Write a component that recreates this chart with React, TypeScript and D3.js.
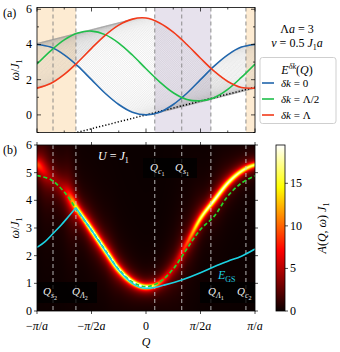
import React, { useMemo } from 'react';
import * as d3 from 'd3';

const PI = Math.PI;
const LAMBDA = 3;
const V = 0.5;

// Q grid (units of pi/a), shared by all sampled curves
const qGridPi = [-1, -0.875, -0.75, -0.625, -0.5, -0.375, -0.25, -0.125, 0, 0.125, 0.25, 0.375, 0.5, 0.625, 0.75, 0.875, 1];

// panel (a): E^{dk}(Q)
const blueE = [4.0, 3.85, 3.41, 2.77, 2.0, 1.23, 0.59, 0.15, 0.0, 0.15, 0.59, 1.23, 2.0, 2.77, 3.41, 3.85, 4.0];
const greenE = [2.89, 3.64, 4.26, 4.65, 4.76, 4.56, 4.08, 3.4, 2.62, 1.88, 1.26, 0.88, 0.8, 0.98, 1.45, 2.13, 2.89];
const redE = [1.52, 1.78, 2.3, 3.0, 3.78, 4.52, 5.1, 5.44, 5.5, 5.22, 4.7, 4.0, 3.22, 2.48, 1.9, 1.56, 1.52];
const grayDeltaK = d3.range(0, 61).map(i => (i * LAMBDA) / 60);

// special momenta
const qLines = [-2.68, -2.02, 0.253, 1.03, 1.87, 2.88];
const orangeRanges = [[-PI, -2.02], [2.88, PI]];
const purpleRanges = [[0.253, 1.87]];

// panel (b)
const dashedE = [4.89, 4.75, 4.3, 3.6, 2.92, 2.2, 1.5, 1.05, 0.88, 1.05, 1.52, 2.25, 2.95, 3.42, 4.15, 4.62, 4.89];
const gsLeftQ = [-PI, -2.9, -2.68, -2.45, -2.29, -2.02];
const gsLeftE = [2.3, 2.52, 2.8, 3.1, 3.33, 3.73];
const gsRightQ = [-2.02, -1.571, -1.178, -0.785, -0.393, 0, 0.25, 0.5, 1.03, 1.57, 1.96, 2.36, 2.75, PI];
const gsRightE = [3.73, 2.92, 2.18, 1.48, 1.0, 0.82, 0.85, 0.93, 1.12, 1.38, 1.6, 1.8, 1.98, 2.24];
const ridgeW = [5.3, 4.85, 4.35, 3.65, 2.93, 2.2, 1.5, 1.05, 0.87, 1.02, 1.55, 2.45, 3.35, 4.0, 4.62, 5.05, 5.28];
const ridgeAmp = [8, 4, 5, 14, 19, 19, 19, 19, 18, 9, 5, 8, 14, 16, 16, 15, 14];
const ridgeWidth = [0.2, 0.3, 0.25, 0.1, 0.08, 0.08, 0.08, 0.08, 0.08, 0.11, 0.16, 0.11, 0.08, 0.08, 0.08, 0.08, 0.08];

const xTickLabels = ['−π/a', '−π/2a', '0', 'π/2a', 'π/a'];
const cbarTicks = [0, 5, 10, 15];
const CMAX = 19.5;

const qGrid = qGridPi.map(p => p * PI);
const font = "'Liberation Serif', 'DejaVu Serif', serif";

const xS = d3.scaleLinear().domain([-PI, PI]).range([37, 255]);
const yA = d3.scaleLinear().domain([-1, 6.1]).range([132.5, 7.5]);
const yB = d3.scaleLinear().domain([0, 6]).range([311, 145]);
const yC = d3.scaleLinear().domain([0, CMAX]).range([311, 145]);

const catmull = (vals: number[], q: number) => {
  const n = vals.length;
  const f = (q + PI) / (PI / 8);
  const i = Math.max(0, Math.min(n - 2, Math.floor(f)));
  const t = f - i;
  const p0 = vals[Math.max(i - 1, 0)], p1 = vals[i], p2 = vals[i + 1], p3 = vals[Math.min(i + 2, n - 1)];
  return 0.5 * (2 * p1 + (-p0 + p2) * t + (2 * p0 - 5 * p1 + 4 * p2 - p3) * t * t + (-p0 + 3 * p1 - 3 * p2 + p3) * t * t * t);
};

const hot = (v: number) => {
  const t = Math.max(0, Math.min(1, v / CMAX));
  const r = t < 0.365 ? 0.0416 + (1 - 0.0416) * t / 0.365 : 1;
  const g = t < 0.365 ? 0 : t < 0.746 ? (t - 0.365) / 0.381 : 1;
  const b = t < 0.746 ? 0 : (t - 0.746) / 0.254;
  return [r * 255, g * 255, b * 255];
};

const mathText = (s: string) =>
  s.split('').map((c, i) =>
    /[a-zA-Zπ]/.test(c) ? <tspan key={i} fontStyle="italic">{c}</tspan> : <tspan key={i}>{c}</tspan>
  );

const QLabel = ({ x, y, sub, num }: { x: number; y: number; sub: string; num: string }) => (
  <text x={x} y={y} fill="#eee" fontSize={11} fontFamily={font}>
    <tspan fontStyle="italic">Q</tspan>
    <tspan dy={3} fontSize={8} fontStyle="italic">{sub}</tspan>
    <tspan dy={2} fontSize={6}>{num}</tspan>
  </text>
);

const App = () => {
  const lineA = d3.line<[number, number]>().x(d => xS(d[0])).y(d => yA(d[1])).curve(d3.curveCatmullRom);
  const lineB = d3.line<[number, number]>().x(d => xS(d[0])).y(d => yB(d[1])).curve(d3.curveCatmullRom);
  const lineBm = d3.line<[number, number]>().x(d => xS(d[0])).y(d => yB(d[1])).curve(d3.curveMonotoneX);

  const grayPaths = grayDeltaK.map(dk => {
    const pts: [number, number][] = [];
    for (let rep = -1; rep <= 1; rep++) {
      qGrid.slice(0, -1).forEach((q, i) => pts.push([q + dk + rep * 2 * PI, blueE[i] + V * dk]));
    }
    pts.sort((a, b) => a[0] - b[0]);
    return lineA(pts.filter(p => p[0] > -PI - 1 && p[0] < PI + 1));
  });

  const heatUrl = useMemo(() => {
    const w = 218, h = 166;
    const canvas = document.createElement('canvas');
    canvas.width = w;
    canvas.height = h;
    const ctx = canvas.getContext('2d');
    if (!ctx) return '';
    const img = ctx.createImageData(w, h);
    const pxPerW = 166 / 6, pxPerQ = 218 / (2 * PI);
    for (let i = 0; i < w; i++) {
      const q = xS.invert(37 + i + 0.5);
      const w0 = catmull(ridgeW, q);
      const slope = (catmull(ridgeW, q + 0.01) - catmull(ridgeW, q - 0.01)) / 0.02;
      const spx = slope * pxPerW / pxPerQ;
      const gam = Math.max(0.03, catmull(ridgeWidth, q)) * Math.sqrt(1 + spx * spx);
      const amp = Math.max(0, catmull(ridgeAmp, q));
      for (let j = 0; j < h; j++) {
        const om = yB.invert(145 + j + 0.5);
        const d = om - w0;
        const g2 = gam * 3;
        const a = amp * gam * gam / (d * d + gam * gam) + 0.18 * amp * g2 * g2 / (d * d + g2 * g2);
        const [r, g, b] = hot(a);
        const k = (j * w + i) * 4;
        img.data[k] = r;
        img.data[k + 1] = g;
        img.data[k + 2] = b;
        img.data[k + 3] = 255;
      }
    }
    ctx.putImageData(img, 0, 0);
    return canvas.toDataURL();
  }, []);

  const aTicksY = d3.range(-1, 7);
  const xTicks = d3.range(-4, 5).map(k => (k * PI) / 4);
  const bTicksY = d3.range(0, 7);

  const zip = (qs: number[], es: number[]) => qs.map((q, i) => [q, es[i]] as [number, number]);

  return (
    <svg width={340} height={352} style={{ position: 'absolute', left: 0, top: 0 }} fontFamily={font}>
      <defs>
        <clipPath id="clipA"><rect x={37} y={7.5} width={218} height={125} /></clipPath>
        <clipPath id="clipB"><rect x={37} y={145} width={218} height={166} /></clipPath>
        <linearGradient id="hotGrad" x1="0" y1="1" x2="0" y2="0">
          <stop offset="0" stopColor="rgb(10,0,0)" />
          <stop offset="0.365" stopColor="rgb(255,0,0)" />
          <stop offset="0.746" stopColor="rgb(255,255,0)" />
          <stop offset="1" stopColor="rgb(255,255,255)" />
        </linearGradient>
      </defs>

      {/* panel (a) */}
      <g clipPath="url(#clipA)">
        {orangeRanges.map((r, i) => (
          <rect key={'o' + i} x={xS(r[0])} y={7.5} width={xS(r[1]) - xS(r[0])} height={125} fill="#fdebd2" />
        ))}
        {purpleRanges.map((r, i) => (
          <rect key={'p' + i} x={xS(r[0])} y={7.5} width={xS(r[1]) - xS(r[0])} height={125} fill="#e7e2ed" />
        ))}
        {grayPaths.map((p, i) => (
          <path key={i} d={p || ''} fill="none" stroke="#999" strokeWidth={0.5} strokeOpacity={0.38} />
        ))}
        {qLines.map((q, i) => (
          <line key={i} x1={xS(q)} x2={xS(q)} y1={7.5} y2={132.5} stroke="#808080" strokeWidth={0.9} strokeDasharray="4,3" />
        ))}
        <path d={lineA([[-PI, -V * PI], [PI, V * PI]]) || ''} stroke="#000" strokeWidth={1.5} strokeDasharray="1.2,2" fill="none" />
        <path d={lineA(zip(qGrid, blueE)) || ''} stroke="#2166ac" strokeWidth={1.6} fill="none" />
        <path d={lineA(zip(qGrid, greenE)) || ''} stroke="#1fbf4a" strokeWidth={1.6} fill="none" />
        <path d={lineA(zip(qGrid, redE)) || ''} stroke="#f23a1a" strokeWidth={1.6} fill="none" />
      </g>
      <rect x={37} y={7.5} width={218} height={125} fill="none" stroke="#000" strokeWidth={0.8} />
      {aTicksY.map(v => {
        const len = v % 2 === 0 ? 4 : 2;
        return (
          <g key={'ay' + v}>
            <line x1={37} x2={37 + len} y1={yA(v)} y2={yA(v)} stroke="#000" strokeWidth={0.7} />
            <line x1={255} x2={255 - len} y1={yA(v)} y2={yA(v)} stroke="#000" strokeWidth={0.7} />
          </g>
        );
      })}
      {xTicks.map((q, i) => {
        const len = i % 2 === 0 ? 4 : 2;
        return (
          <g key={'ax' + i}>
            <line x1={xS(q)} x2={xS(q)} y1={132.5} y2={132.5 - len} stroke="#000" strokeWidth={0.7} />
            <line x1={xS(q)} x2={xS(q)} y1={7.5} y2={7.5 + len} stroke="#000" strokeWidth={0.7} />
          </g>
        );
      })}
      {[0, 2, 4, 6].map(v => (
        <text key={'al' + v} x={32} y={yA(v) + 4} textAnchor="end" fontSize={12}>{v}</text>
      ))}
      <text x={3} y={17} fontSize={12}>(a)</text>
      <text transform={`translate(19,${70}) rotate(-90)`} textAnchor="middle" fontSize={12}>
        <tspan fontStyle="italic">ω</tspan>/<tspan fontStyle="italic">J</tspan><tspan dy={3} fontSize={8}>1</tspan>
      </text>

      {/* right annotations */}
      <text x={297} y={33} textAnchor="middle" fontSize={12}>Λ<tspan fontStyle="italic">a</tspan> = 3</text>
      <text x={297} y={47} textAnchor="middle" fontSize={12}>
        <tspan fontStyle="italic">v</tspan> = 0.5 <tspan fontStyle="italic">J</tspan><tspan dy={3} fontSize={8}>1</tspan><tspan dy={-3} fontStyle="italic">a</tspan>
      </text>
      <rect x={260} y={57.5} width={76} height={66} rx={2.5} fill="#fff" stroke="#cfcfcf" strokeWidth={1} />
      <text x={297} y={74} textAnchor="middle" fontSize={12}>
        <tspan fontStyle="italic">E</tspan><tspan dy={-5} fontSize={8} fontStyle="italic">δk</tspan><tspan dy={5}>(</tspan><tspan fontStyle="italic">Q</tspan>)
      </text>
      {[
        { c: '#2166ac', t: ' = 0' },
        { c: '#1fbf4a', t: ' = Λ/2' },
        { c: '#f23a1a', t: ' = Λ' },
      ].map((e, i) => (
        <g key={'lg' + i}>
          <line x1={262} x2={274} y1={83 + i * 16} y2={83 + i * 16} stroke={e.c} strokeWidth={1.6} />
          <text x={281} y={87 + i * 16} fontSize={11}>
            <tspan fontStyle="italic">δk</tspan>{e.t}
          </text>
        </g>
      ))}

      {/* panel (b) */}
      <image href={heatUrl} x={37} y={145} width={218} height={166} preserveAspectRatio="none" />
      <g clipPath="url(#clipB)">
        {qLines.map((q, i) => (
          <line key={i} x1={xS(q)} x2={xS(q)} y1={145} y2={311} stroke="#c8c8c8" strokeWidth={0.9} strokeDasharray="4,3" />
        ))}
        <rect x={37} y={282} width={60} height={21} fill="#000" fillOpacity={0.78} />
        <rect x={143} y={158} width={54} height={20} fill="#000" fillOpacity={0.78} />
        <rect x={200} y={282} width={55} height={21} fill="#000" fillOpacity={0.78} />
        <path d={lineB(zip(qGrid, dashedE)) || ''} stroke="#22d62a" strokeWidth={1.7} strokeDasharray="4,2.5" fill="none" />
        <path d={lineBm(zip(gsLeftQ, gsLeftE)) || ''} stroke="#1cd3e3" strokeWidth={1.6} fill="none" />
        <path d={lineBm(zip(gsRightQ, gsRightE)) || ''} stroke="#1cd3e3" strokeWidth={1.6} fill="none" />
      </g>
      <rect x={37} y={145} width={218} height={166} fill="none" stroke="#000" strokeWidth={0.8} />
      {bTicksY.map(v => (
        <g key={'by' + v}>
          <line x1={37} x2={34} y1={yB(v)} y2={yB(v)} stroke="#000" strokeWidth={0.7} />
          <line x1={255} x2={258} y1={yB(v)} y2={yB(v)} stroke="#000" strokeWidth={0.7} />
          <text x={32} y={yB(v) + 4} textAnchor="end" fontSize={12}>{v}</text>
        </g>
      ))}
      {xTicks.filter((_, i) => i % 2 === 0).map((q, i) => (
        <g key={'bx' + i}>
          <line x1={xS(q)} x2={xS(q)} y1={311} y2={314} stroke="#000" strokeWidth={0.7} />
          <line x1={xS(q)} x2={xS(q)} y1={145} y2={142} stroke="#000" strokeWidth={0.7} />
          <text x={xS(q)} y={330} textAnchor="middle" fontSize={12}>{mathText(xTickLabels[i])}</text>
        </g>
      ))}
      <text x={146} y={346} textAnchor="middle" fontSize={12} fontStyle="italic">Q</text>
      <text x={3} y={154} fontSize={12}>(b)</text>
      <text transform={`translate(19,${228}) rotate(-90)`} textAnchor="middle" fontSize={12}>
        <tspan fontStyle="italic">ω</tspan>/<tspan fontStyle="italic">J</tspan><tspan dy={3} fontSize={8}>1</tspan>
      </text>
      <text x={98} y={160} fill="#fff" fontSize={12}>
        <tspan fontStyle="italic">U</tspan> = <tspan fontStyle="italic">J</tspan><tspan dy={3} fontSize={8}>1</tspan>
      </text>
      <QLabel x={43} y={295} sub="s" num="2" />
      <QLabel x={72} y={295} sub="Λ" num="2" />
      <QLabel x={150} y={171} sub="c" num="1" />
      <QLabel x={175} y={171} sub="s" num="1" />
      <QLabel x={208} y={295} sub="Λ" num="1" />
      <QLabel x={237} y={295} sub="c" num="2" />
      <text x={218} y={279} fill="#1cd3e3" fontSize={12}>
        <tspan fontStyle="italic">E</tspan><tspan dy={3} fontSize={8}>GS</tspan>
      </text>

      {/* colorbar */}
      <rect x={276} y={145} width={9} height={166} fill="url(#hotGrad)" stroke="#000" strokeWidth={0.8} />
      {cbarTicks.map(v => (
        <g key={'cb' + v}>
          <line x1={285} x2={288} y1={yC(v)} y2={yC(v)} stroke="#000" strokeWidth={0.7} />
          <text x={290} y={yC(v) + 4} fontSize={12}>{v}</text>
        </g>
      ))}
      <text transform={`translate(326,228) rotate(-90)`} textAnchor="middle" fontSize={12}>
        <tspan fontStyle="italic">A</tspan>(<tspan fontStyle="italic">Q</tspan>, <tspan fontStyle="italic">ω</tspan>) <tspan fontStyle="italic">J</tspan><tspan dy={3} fontSize={8}>1</tspan>
      </text>
    </svg>
  );
};

export default App;
